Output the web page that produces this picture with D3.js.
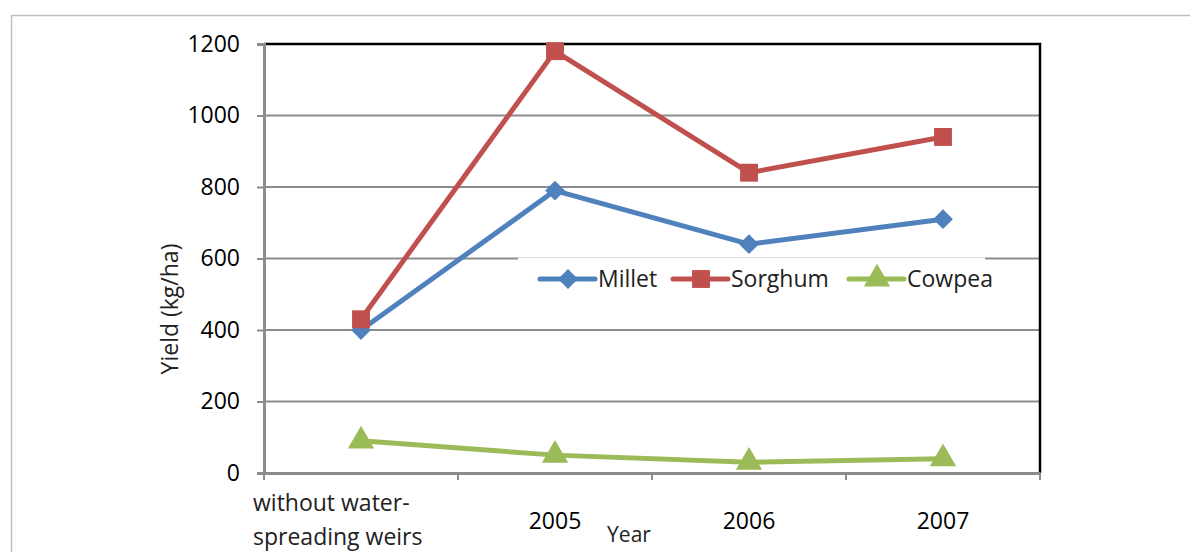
<!DOCTYPE html>
<html><head><meta charset="utf-8">
<script src="https://cdn.jsdelivr.net/npm/d3@7"></script>
<style>body{margin:0;background:#fff;} svg{display:block;font-family:"Open Sans",sans-serif;}</style>
</head><body>
<svg id="c" width="1190" height="552"></svg>
<script>
const categories = ["without water-\nspreading weirs", "2005", "2006", "2007"];
const millet = [400, 790, 640, 710];
const sorghum = [430, 1180, 840, 940];
const cowpea = [90, 50, 30, 40];
const yTicks = [0, 200, 400, 600, 800, 1000, 1200];
const seriesNames = ["Millet", "Sorghum", "Cowpea"];
const seriesColors = ["#4F81BD", "#C0504D", "#9BBB59"];
const seriesSymbols = [d3.symbolDiamond2, d3.symbolSquare, d3.symbolTriangle];

const svg = d3.select("#c");
const M = {l:264, r:1040, t:44, b:473};
const x = d3.scaleBand().domain(categories).range([M.l, M.r]);
const y = d3.scaleLinear().domain([0, 1200]).range([M.b, M.t]);
const FS = 23;

// outer border
svg.append("path").attr("d", "M11.5,560V15.5H1200").attr("fill","none").attr("stroke","#bfbfbf").attr("stroke-width",1.5);

// gridlines
svg.append("g").selectAll("line").data(yTicks.filter(d=>d>0 && d<1200)).join("line")
  .attr("x1", M.l).attr("x2", M.r).attr("y1", d=>y(d)).attr("y2", d=>y(d))
  .attr("stroke", "#8c8c8c").attr("stroke-width", 2);

// top and right border of plot
svg.append("path").attr("d", `M${M.l},${y(1200)}H${M.r}V${M.b}`).attr("fill","none").attr("stroke","#000").attr("stroke-width",2.5);

// y axis
const yAxis = svg.append("g").attr("transform", `translate(${M.l},0)`)
  .call(d3.axisLeft(y).tickValues(yTicks).tickSize(7).tickPadding(17).tickFormat(d3.format("d")));
yAxis.select(".domain").attr("stroke","#8c8c8c").attr("stroke-width",3);
yAxis.selectAll(".tick line").attr("stroke","#8c8c8c").attr("stroke-width",2);
yAxis.selectAll("text").attr("font-size", FS).attr("fill","#000").attr("font-family","Open Sans");

// x axis
const xAxis = svg.append("g").attr("transform", `translate(0,${M.b})`)
  .call(d3.axisBottom(x).tickSize(0).tickFormat(""));
xAxis.select(".domain").attr("stroke","#8c8c8c").attr("stroke-width",3);
const bounds = categories.map(c => x(c)).concat([M.r]);
svg.append("g").selectAll("line").data(bounds).join("line")
  .attr("x1", d=>d).attr("x2", d=>d).attr("y1", M.b).attr("y2", M.b+7)
  .attr("stroke","#8c8c8c").attr("stroke-width",2);

// x labels
categories.forEach((c, i) => {
  const lines = c.split("\n");
  if (lines.length > 1) {
    const t = svg.append("text").attr("x", 253).attr("y", 511).attr("font-size", FS).attr("fill","#222");
    lines.forEach((ln, j) => t.append("tspan").attr("x", 253).attr("dy", j ? 34 : 0).text(ln));
  } else {
    svg.append("text").attr("x", x(c) + x.bandwidth()/2).attr("y", 529).attr("text-anchor","middle")
      .attr("font-size", FS).attr("fill","#000").text(c);
  }
});

// axis titles
svg.append("text").attr("x", 629).attr("y", 542).attr("text-anchor","middle").attr("font-size",21).attr("fill","#222").text("Year");
svg.append("text").attr("transform","translate(178,309) rotate(-90)").attr("text-anchor","middle").attr("font-size",23).attr("fill","#222").text("Yield (kg/ha)");

// legend background
svg.append("rect").attr("x", 518).attr("y", 258).attr("width", 467).attr("height", 42).attr("fill","#fff");
svg.append("line").attr("x1",518).attr("x2",985).attr("y1",257.5).attr("y2",257.5).attr("stroke","#dcdcdc").attr("stroke-width",1);

// series
const allSeries = [millet, sorghum, cowpea];
const sizes = [250, 320, 300];
const line = d3.line().x((d,i)=>x(categories[i]) + x.bandwidth()/2).y(d=>y(d));
allSeries.forEach((vals, k) => {
  const g = svg.append("g");
  g.append("path").attr("d", line(vals)).attr("fill","none").attr("stroke", seriesColors[k]).attr("stroke-width",5).attr("stroke-linejoin","round");
  g.selectAll("path.m").data(vals).join("path").attr("class","m")
    .attr("d", d3.symbol().type(seriesSymbols[k]).size(sizes[k]))
    .attr("transform", (d,i)=>`translate(${x(categories[i]) + x.bandwidth()/2},${y(d)})`)
    .attr("fill", seriesColors[k]);
});

// legend
const legX = [540, 673, 849];
seriesNames.forEach((n, k) => {
  const g = svg.append("g").attr("transform", `translate(${legX[k]},279)`);
  g.append("line").attr("x1",0).attr("x2",55).attr("stroke",seriesColors[k]).attr("stroke-width",5).attr("stroke-linecap","round");
  g.append("path").attr("d", d3.symbol().type(seriesSymbols[k]).size(sizes[k])()).attr("transform","translate(28,0)").attr("fill",seriesColors[k]);
  g.append("text").attr("x", 58).attr("y", 8).attr("font-size", FS).attr("fill","#222").text(n);
});
</script>
</body></html>
